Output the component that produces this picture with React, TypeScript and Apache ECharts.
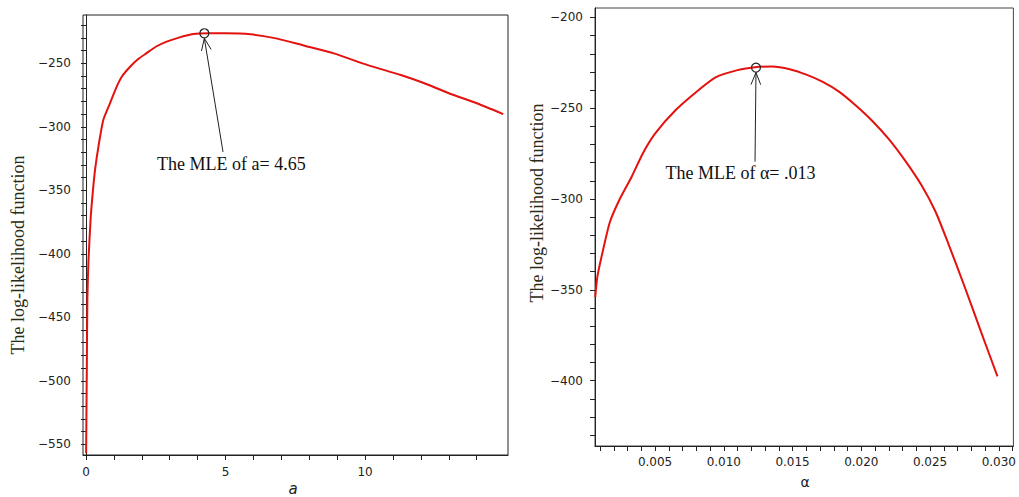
import React, { useEffect, useRef } from "react";
import * as echarts from "echarts";

// Left panel: log-likelihood vs a
const leftA = [0.005, 0.03, 0.05, 0.09, 0.17, 0.25, 0.33, 0.45, 0.62, 0.86, 1.1, 1.3, 1.58, 1.85, 2.17, 2.5, 2.89, 3.3, 3.84, 4.4, 5.0, 5.9, 6.85, 7.8, 8.85, 10.1, 11.25, 12.1, 13.0, 14.0, 14.95];
const leftLL = [-557, -490, -435, -405, -371, -350, -333, -315, -294.6, -281.5, -268.4, -260, -252.7, -247, -242, -237, -233, -230, -227, -226.4, -226.4, -227.2, -230.6, -236, -242, -251.5, -259, -265.5, -273.6, -281.5, -290];

// Right panel: log-likelihood vs alpha
const rightAlpha = [0.00065, 0.0008, 0.0011, 0.0017, 0.0024, 0.0033, 0.0041, 0.005, 0.0065, 0.008, 0.0094, 0.011, 0.0124, 0.0135, 0.0148, 0.016, 0.0172, 0.0184, 0.0196, 0.0208, 0.022, 0.0232, 0.0244, 0.0254, 0.0263, 0.0275, 0.0287, 0.0299];
const rightLL = [-354, -343, -332, -313, -300.5, -287.7, -275, -264, -251, -241, -233, -229, -227.3, -227, -228.5, -231.5, -235.5, -241, -248.5, -257, -267, -279, -292.7, -307, -324, -348, -373, -397.6];

// Tick values and labels
const leftXTicks = [0, 1, 2, 3, 4, 5, 6, 7, 8, 9, 10, 11, 12, 13, 14];
const leftXLabels = [0, 5, 10];
const leftYTicks = [-550, -540, -530, -520, -510, -500, -490, -480, -470, -460, -450, -440, -430, -420, -410, -400, -390, -380, -370, -360, -350, -340, -330, -320, -310, -300, -290, -280, -270, -260, -250, -240, -230, -220];
const leftYLabels = [-550, -500, -450, -400, -350, -300, -250];
const rightXTicks = [0.001, 0.002, 0.003, 0.004, 0.005, 0.006, 0.007, 0.008, 0.009, 0.01, 0.011, 0.012, 0.013, 0.014, 0.015, 0.016, 0.017, 0.018, 0.019, 0.02, 0.021, 0.022, 0.023, 0.024, 0.025, 0.026, 0.027, 0.028, 0.029, 0.03, 0.031];
const rightXLabels = [0.005, 0.01, 0.015, 0.02, 0.025, 0.03];
const rightYTicks = [-430, -420, -410, -400, -390, -380, -370, -360, -350, -340, -330, -320, -310, -300, -290, -280, -270, -260, -250, -240, -230, -220, -210, -200];
const rightYLabels = [-400, -350, -300, -250, -200];

// Annotations: [circleX, circleY, tailX, tailY, textX, textY]
const leftMLE = [4.24, -226.4, 4.91, -319.8, 5.21, -329.3];
const rightMLE = [0.01234, -227.6, 0.01227, -279.4, 0.01121, -285.6];
const leftMLEText = "The MLE of a= 4.65";
const rightMLEText = "The MLE of \u03b1= .013";

const yTitle = "The log-likelihood function";

const RED = "#e3120f";
const tickFont = "DejaVu Sans";
const serif = "Liberation Serif";

function fmtY(v: number) {
  return v < 0 ? "\u2212" + Math.abs(v) : String(v);
}

function annotRender(text: string) {
  return (params: any, api: any) => {
    const c = api.coord([api.value(0), api.value(1)]);
    const t = api.coord([api.value(2), api.value(3)]);
    const l = api.coord([api.value(4), api.value(5)]);
    const r = 4.5;
    const tip = [c[0], c[1] + r + 0.5];
    const dx = t[0] - tip[0];
    const dy = t[1] - tip[1];
    const len = Math.sqrt(dx * dx + dy * dy);
    const ux = dx / len;
    const uy = dy / len;
    const ang = (22 * Math.PI) / 180;
    const hl = 13;
    const rot = (x: number, y: number, a: number) => [x * Math.cos(a) - y * Math.sin(a), x * Math.sin(a) + y * Math.cos(a)];
    const h1 = rot(ux, uy, ang);
    const h2 = rot(ux, uy, -ang);
    const stroke = { stroke: "#222", lineWidth: 1, fill: null };
    return {
      type: "group",
      children: [
        { type: "circle", shape: { cx: c[0], cy: c[1], r }, style: { stroke: "#222", lineWidth: 1.2, fill: "none" } },
        { type: "line", shape: { x1: tip[0], y1: tip[1], x2: t[0], y2: t[1] }, style: stroke },
        {
          type: "polyline",
          shape: { points: [[tip[0] + h1[0] * hl, tip[1] + h1[1] * hl], tip, [tip[0] + h2[0] * hl, tip[1] + h2[1] * hl]] },
          style: stroke,
        },
        {
          type: "text",
          x: l[0],
          y: l[1],
          style: { text, fill: "#111", font: `18px "${serif}"`, align: "center", verticalAlign: "middle" },
        },
      ],
    };
  };
}

export default function App() {
  const ref = useRef<HTMLDivElement>(null);
  useEffect(() => {
    const chart = echarts.init(ref.current!, null, { renderer: "svg" });
    const axisLine = { show: true, lineStyle: { color: "#222", width: 1 } };
    const lbl = { fontFamily: tickFont, fontSize: 12, color: "#222" };
    const option: any = {
      animation: false,
      backgroundColor: "#fff",
      grid: [
        { left: 83, top: 15, width: 425, height: 440, show: true, borderColor: "#222", borderWidth: 1 },
        { left: 595, top: 8, width: 423, height: 438, show: true, borderColor: "#444", borderWidth: 1 },
      ],
      xAxis: [
        {
          type: "value",
          gridIndex: 0,
          min: -0.107,
          max: 15.12,
          axisLine,
          splitLine: { show: false },
          axisTick: { show: true, length: 5, customValues: leftXTicks, lineStyle: { color: "#222" } },
          axisLabel: { customValues: leftXLabels, margin: 11, ...lbl },
        },
        {
          type: "value",
          gridIndex: 1,
          min: 0.000633,
          max: 0.03106,
          axisLine,
          splitLine: { show: false },
          axisTick: { show: true, length: 5, customValues: rightXTicks, lineStyle: { color: "#222" } },
          axisLabel: { customValues: rightXLabels, margin: 10, ...lbl, formatter: (v: number) => v.toFixed(3) },
        },
      ],
      yAxis: [
        {
          type: "value",
          gridIndex: 0,
          min: -558.4,
          max: -212,
          axisLine,
          splitLine: { show: false },
          axisTick: { show: true, length: 5, customValues: leftYTicks, lineStyle: { color: "#222" } },
          axisLabel: { customValues: leftYLabels, margin: 12, ...lbl, formatter: fmtY },
        },
        {
          type: "value",
          gridIndex: 1,
          min: -435.96,
          max: -194.8,
          axisLine,
          splitLine: { show: false },
          axisTick: { show: true, length: 5, customValues: rightYTicks, lineStyle: { color: "#222" } },
          axisLabel: { customValues: rightYLabels, margin: 12, ...lbl, formatter: fmtY },
        },
      ],
      series: [
        {
          type: "line",
          xAxisIndex: 0,
          yAxisIndex: 0,
          data: leftA.map((a, i) => [a, leftLL[i]]),
          showSymbol: false,
          smooth: 0.2,
          lineStyle: { color: RED, width: 2 },
          z: 2,
        },
        {
          type: "line",
          xAxisIndex: 1,
          yAxisIndex: 1,
          data: rightAlpha.map((a, i) => [a, rightLL[i]]),
          showSymbol: false,
          smooth: 0.2,
          lineStyle: { color: RED, width: 2 },
          z: 2,
        },
        {
          type: "custom",
          xAxisIndex: 0,
          yAxisIndex: 0,
          data: [leftMLE],
          renderItem: annotRender(leftMLEText),
          z: 3,
        },
        {
          type: "custom",
          xAxisIndex: 1,
          yAxisIndex: 1,
          data: [rightMLE],
          renderItem: annotRender(rightMLEText),
          z: 3,
        },
      ],
      graphic: [
        {
          type: "text",
          x: 18,
          y: 255,
          rotation: Math.PI / 2,
          style: { text: yTitle, fill: "#2a2a12", font: `18px "${serif}"`, align: "center", verticalAlign: "middle" },
        },
        {
          type: "text",
          x: 537,
          y: 203,
          rotation: Math.PI / 2,
          style: { text: yTitle, fill: "#2a2a12", font: `18px "${serif}"`, align: "center", verticalAlign: "middle" },
        },
        {
          type: "text",
          x: 293,
          y: 489,
          style: { text: "a", fill: "#222", font: `italic 15px "${tickFont}"`, align: "center", verticalAlign: "middle" },
        },
        {
          type: "text",
          x: 805,
          y: 482,
          style: { text: "\u03b1", fill: "#222", font: `14px "${tickFont}"`, align: "center", verticalAlign: "middle" },
        },
      ],
    };
    chart.setOption(option);
    return () => chart.dispose();
  }, []);
  return <div ref={ref} style={{ position: "fixed", left: 0, top: 0, width: 1019, height: 497 }} />;
}
